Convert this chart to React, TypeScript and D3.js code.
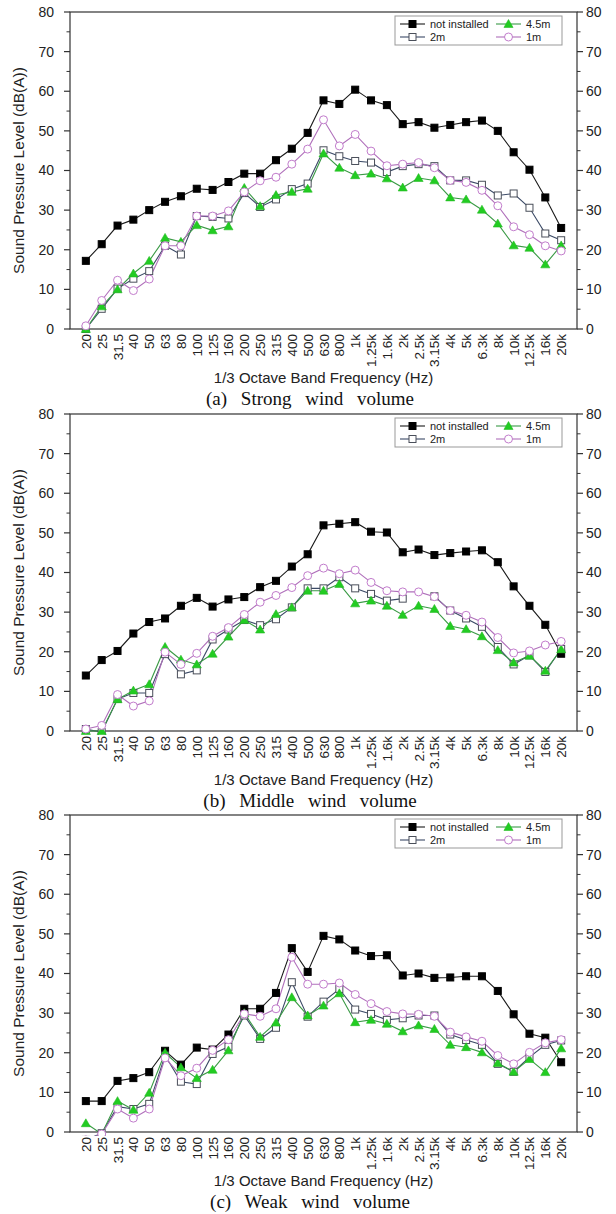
import React from "react";
import * as d3 from "d3";

const freqLabels = ["20","25","31.5","40","50","63","80","100","125","160","200","250","315","400","500","630","800","1k","1.25k","1.6k","2k","2.5k","3.15k","4k","5k","6.3k","8k","10k","12.5k","16k","20k"];

const strongNotInstalled = [17.2,21.4,26.1,27.6,30.0,32.1,33.5,35.4,35.1,37.1,39.2,39.2,42.6,45.5,49.5,57.7,56.8,60.4,57.7,56.5,51.7,52.2,50.8,51.5,52.2,52.6,50.0,44.6,40.2,33.2,25.5];
const strong2m = [0.0,5.1,10.2,12.7,14.6,21.0,18.8,28.5,28.3,27.9,34.3,30.8,32.7,35.3,36.7,45.1,43.6,42.4,42.0,39.6,41.1,41.6,41.1,37.5,37.5,36.4,33.7,34.2,30.6,24.1,22.4];
const strong45m = [0.0,5.7,10.0,14.0,17.2,23.0,22.0,26.2,24.9,25.9,35.6,31.0,33.8,34.6,35.4,44.3,40.7,38.8,39.2,38.0,35.7,38.1,37.5,33.2,32.7,30.1,26.6,21.1,20.5,16.3,21.1];
const strong1m = [0.8,7.2,12.3,9.7,12.6,21.0,21.0,28.5,28.5,29.8,34.6,37.4,38.3,41.6,45.4,52.8,46.2,49.1,44.9,41.2,41.6,42.0,40.7,37.5,37.0,35.0,31.1,25.8,23.8,21.0,19.7];

const middleNotInstalled = [14.0,17.9,20.2,24.6,27.5,28.4,31.6,33.6,31.4,33.2,33.8,36.3,37.9,41.5,44.6,51.9,52.3,52.7,50.3,50.1,45.1,45.8,44.4,44.9,45.3,45.6,42.6,36.5,31.6,26.8,19.5];
const middle2m = [0.5,-0.3,8.1,9.6,9.6,19.4,14.3,15.3,23.1,25.6,28.0,26.7,28.2,31.2,36.0,36.0,38.8,36.0,34.6,32.9,33.4,null,34.0,30.4,28.4,26.3,21.2,16.8,19.1,14.9,20.7];
const middle45m = [0.0,0.0,8.0,10.2,11.8,21.2,18.0,16.8,19.5,23.8,28.0,25.6,29.5,31.2,35.4,35.4,37.1,32.2,32.9,31.6,29.3,31.6,30.8,26.5,25.7,23.9,20.4,17.3,19.0,15.2,20.6];
const middle1m = [0.5,1.4,9.2,6.3,7.6,19.9,16.8,19.6,23.9,26.1,29.4,32.5,34.2,36.2,39.2,41.1,39.7,40.6,37.5,35.4,35.1,35.1,33.9,30.4,29.2,27.5,23.6,19.7,20.2,21.7,22.6];

const weakNotInstalled = [7.8,7.8,12.9,13.6,15.1,20.5,17.0,21.3,20.8,24.6,31.1,31.1,35.1,46.4,40.4,49.5,48.6,45.8,44.4,44.6,39.5,40.0,38.9,39.0,39.3,39.3,35.6,29.7,24.8,23.8,17.6];
const weak2m = [-2.0,-0.3,6.4,5.8,7.1,19.3,12.7,12.1,19.7,21.5,29.4,23.5,26.3,37.8,29.1,32.9,36.1,30.9,29.8,28.3,28.7,29.4,29.4,24.6,23.2,22.0,17.2,15.2,18.9,22.0,23.1];
const weak45m = [2.2,-0.5,7.8,5.6,9.9,20.0,16.3,13.6,15.7,20.6,30.0,24.0,27.6,34.0,29.4,31.9,35.0,27.7,28.3,27.3,25.4,26.9,26.0,22.0,21.4,20.1,17.4,15.2,18.4,15.1,21.1];
const weak1m = [-2.0,-0.5,5.8,3.5,5.8,18.7,14.2,16.1,20.6,23.3,29.8,29.2,31.1,44.1,37.3,37.3,37.6,34.7,32.4,30.4,29.8,29.7,29.2,25.2,24.0,22.9,19.3,17.2,20.1,22.5,23.3];

const seriesNames = ["not installed", "2m", "4.5m", "1m"];
const yTicks = [0, 10, 20, 30, 40, 50, 60, 70, 80];
const yMinorTicks = [5, 15, 25, 35, 45, 55, 65, 75];
const captions = ["(a) Strong wind volume", "(b) Middle wind volume", "(c) Weak wind volume"];
const xTitle = "1/3 Octave Band Frequency (Hz)";
const yTitle = "Sound Pressure Level (dB(A))";

const panels = [
  [strongNotInstalled, strong2m, strong45m, strong1m],
  [middleNotInstalled, middle2m, middle45m, middle1m],
  [weakNotInstalled, weak2m, weak45m, weak1m],
];

const PLOT_L = 70;
const PLOT_R = 577;
const PLOT_H = 317;
const panelTops = [12, 414, 815];

const styles = [
  { line: "#1a1a1a", fill: "#000000", stroke: "#000000", shape: "square" },
  { line: "#3b4a66", fill: "#ffffff", stroke: "#4a4f5a", shape: "square" },
  { line: "#3a9a45", fill: "#22cc22", stroke: "#22bb22", shape: "triangle" },
  { line: "#b070bb", fill: "#ffffff", stroke: "#c27ccc", shape: "circle" },
];

const SANS = "'Liberation Sans', Arial, sans-serif";
const SERIF = "'Liberation Serif', 'Times New Roman', serif";

function Marker({ shape, cx, cy, fill, stroke }: any) {
  if (shape === "square") {
    return <rect x={cx - 3.5} y={cy - 3.5} width={7} height={7} fill={fill} stroke={stroke} strokeWidth={1} />;
  }
  if (shape === "triangle") {
    const p = d3.symbol().type(d3.symbolTriangle).size(36)();
    return <path d={p || ""} transform={`translate(${cx},${cy + 0.8})`} fill={fill} stroke={stroke} strokeWidth={0.6} />;
  }
  return <circle cx={cx} cy={cy} r={4} fill={fill} stroke={stroke} strokeWidth={1} />;
}

function Panel({ idx }: { idx: number }) {
  const top = panelTops[idx];
  const bottom = top + PLOT_H;
  const data = panels[idx];
  const x = d3.scalePoint<string>().domain(freqLabels).range([PLOT_L, PLOT_R]).padding(1);
  const y = d3.scaleLinear().domain([0, 80]).range([bottom, top]);
  const clipId = `clip-${idx}`;
  const lineGen = d3
    .line<number | null>()
    .defined((d) => d !== null)
    .x((_, i) => x(freqLabels[i]) as number)
    .y((d) => y(d as number));

  const legendX = 395;
  const legendY = top + 4;

  return (
    <g>
      <defs>
        <clipPath id={clipId}>
          <rect x={PLOT_L - 6} y={top - 6} width={PLOT_R - PLOT_L + 12} height={PLOT_H + 10} />
        </clipPath>
      </defs>
      <rect x={PLOT_L} y={top} width={PLOT_R - PLOT_L} height={PLOT_H} fill="none" stroke="#333" strokeWidth={1.2} />
      {yTicks.map((t) => (
        <g key={`t${t}`}>
          <line x1={PLOT_L - 6} x2={PLOT_L} y1={y(t)} y2={y(t)} stroke="#333" strokeWidth={1.2} />
          <line x1={PLOT_R} x2={PLOT_R + 6} y1={y(t)} y2={y(t)} stroke="#333" strokeWidth={1.2} />
          <text x={PLOT_L - 16} y={y(t)} dy="0.35em" textAnchor="end" fontFamily={SANS} fontSize={14} fill="#222">{t}</text>
          <text x={PLOT_R + 9} y={y(t)} dy="0.35em" textAnchor="start" fontFamily={SANS} fontSize={14} fill="#222">{t}</text>
        </g>
      ))}
      {yMinorTicks.map((t) => (
        <g key={`m${t}`}>
          <line x1={PLOT_L - 3.5} x2={PLOT_L} y1={y(t)} y2={y(t)} stroke="#333" strokeWidth={1} />
          <line x1={PLOT_R} x2={PLOT_R + 3.5} y1={y(t)} y2={y(t)} stroke="#333" strokeWidth={1} />
        </g>
      ))}
      {freqLabels.map((f) => (
        <text
          key={f}
          transform={`translate(${(x(f) as number) + 5},${bottom + 5}) rotate(-90)`}
          textAnchor="end"
          fontFamily={SANS}
          fontSize={13.5}
          fill="#222"
        >
          {f}
        </text>
      ))}
      <text x={(PLOT_L + PLOT_R) / 2} y={bottom + 54} textAnchor="middle" fontFamily={SANS} fontSize={15} fill="#222">{xTitle}</text>
      <text transform={`translate(24,${top + PLOT_H / 2}) rotate(-90)`} textAnchor="middle" fontFamily={SANS} fontSize={15.5} fill="#222">{yTitle}</text>
      <text x={310} y={bottom + 76} textAnchor="middle" fontFamily={SERIF} fontSize={19} wordSpacing={9} fill="#111">{captions[idx]}</text>
      <g clipPath={`url(#${clipId})`}>
        {data.map((s, si) => (
          <path key={`l${si}`} d={lineGen(s as (number | null)[]) || ""} fill="none" stroke={styles[si].line} strokeWidth={1.1} />
        ))}
        {data.map((s, si) =>
          (s as (number | null)[]).map((v, i) =>
            v === null ? null : (
              <Marker key={`p${si}-${i}`} shape={styles[si].shape} cx={x(freqLabels[i]) as number} cy={y(v)} fill={styles[si].fill} stroke={styles[si].stroke} />
            )
          )
        )}
      </g>
      <rect x={legendX} y={legendY} width={167} height={29} fill="#fff" stroke="#999" strokeWidth={1} />
      {seriesNames.map((name, si) => {
        const col = si === 0 || si === 1 ? 0 : 1;
        const row = si === 0 || si === 2 ? 0 : 1;
        const sx = legendX + 5 + col * 96;
        const sy = legendY + 8 + row * 13;
        return (
          <g key={name}>
            <line x1={sx} x2={sx + 25} y1={sy} y2={sy} stroke={styles[si].line} strokeWidth={1.1} />
            <Marker shape={styles[si].shape} cx={sx + 12.5} cy={sy} fill={styles[si].fill} stroke={styles[si].stroke} />
            <text x={sx + 30} y={sy} dy="0.35em" fontFamily={SANS} fontSize={11} fill="#222">{name}</text>
          </g>
        );
      })}
    </g>
  );
}

export default function App() {
  return (
    <svg width={616} height={1214} style={{ position: "absolute", left: 0, top: 0, background: "#fff" }}>
      <rect width={616} height={1214} fill="#fff" />
      {[0, 1, 2].map((i) => (
        <Panel key={i} idx={i} />
      ))}
    </svg>
  );
}
